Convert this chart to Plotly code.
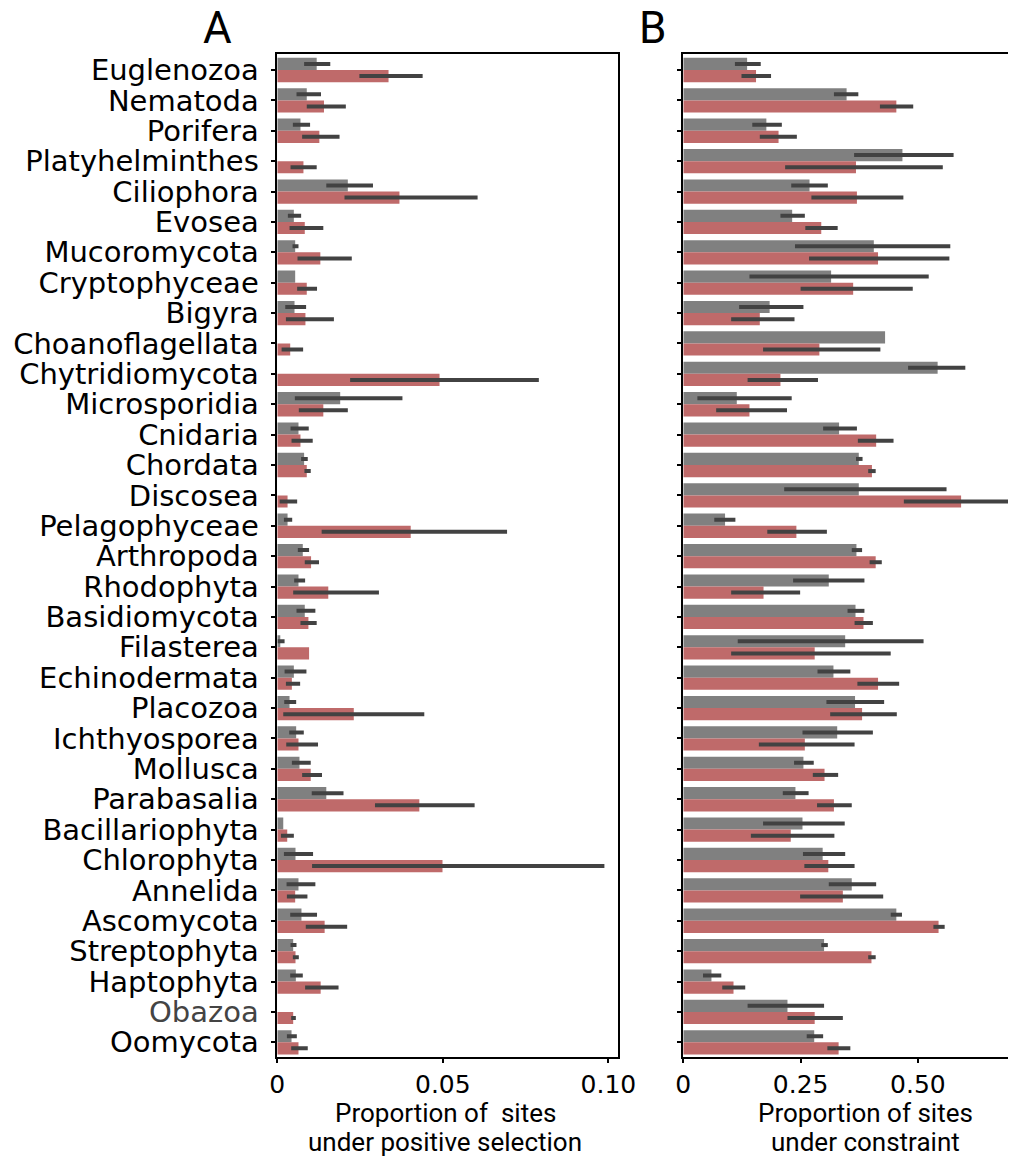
import plotly.graph_objects as go

categories = ["Euglenozoa", "Nematoda", "Porifera", "Platyhelminthes", "Ciliophora", "Evosea",
              "Mucoromycota", "Cryptophyceae", "Bigyra", "Choanoflagellata", "Chytridiomycota",
              "Microsporidia", "Cnidaria", "Chordata", "Discosea", "Pelagophyceae", "Arthropoda",
              "Rhodophyta", "Basidiomycota", "Filasterea", "Echinodermata", "Placozoa",
              "Ichthyosporea", "Mollusca", "Parabasalia", "Bacillariophyta", "Chlorophyta",
              "Annelida", "Ascomycota", "Streptophyta", "Haptophyta", "Obazoa", "Oomycota"]

# Panel A: proportion of sites under positive selection
a_grey = [0.0119, 0.0089, 0.0070, 0.0, 0.0213, 0.0050, 0.0054, 0.0054, 0.0052, 0.0, 0.0,
          0.0190, 0.0064, 0.0081, 0.0, 0.0031, 0.0077, 0.0064, 0.0083, 0.0009, 0.0050, 0.0037,
          0.0057, 0.0067, 0.0148, 0.0018, 0.0055, 0.0064, 0.0073, 0.0048, 0.0056, 0.0, 0.0043]
a_grey_lo = [0.0081, 0.0058, 0.0047, 0.0, 0.0148, 0.0032, 0.0046, 0.0054, 0.0024, 0.0, 0.0,
             0.0053, 0.0040, 0.0072, 0.0, 0.0020, 0.0062, 0.0051, 0.0058, 0.0001, 0.0022, 0.0021,
             0.0036, 0.0044, 0.0104, 0.0018, 0.0020, 0.0028, 0.0039, 0.0040, 0.0039, 0.0, 0.0029]
a_grey_hi = [0.0160, 0.0132, 0.0099, 0.0, 0.0289, 0.0072, 0.0064, 0.0054, 0.0087, 0.0, 0.0,
             0.0378, 0.0095, 0.0092, 0.0, 0.0045, 0.0096, 0.0084, 0.0115, 0.0022, 0.0088, 0.0057,
             0.0080, 0.0101, 0.0200, 0.0018, 0.0108, 0.0115, 0.0120, 0.0058, 0.0077, 0.0, 0.0059]
a_red = [0.0336, 0.0141, 0.0127, 0.0079, 0.0369, 0.0083, 0.0130, 0.0089, 0.0085, 0.0039, 0.0490,
         0.0139, 0.0070, 0.0089, 0.0031, 0.0403, 0.0102, 0.0154, 0.0094, 0.0096, 0.0044, 0.0231,
         0.0064, 0.0101, 0.0429, 0.0030, 0.0499, 0.0054, 0.0143, 0.0055, 0.0131, 0.0048, 0.0064]
a_red_lo = [0.0248, 0.0089, 0.0075, 0.0040, 0.0203, 0.0037, 0.0061, 0.0060, 0.0026, 0.0013, 0.0220,
            0.0065, 0.0043, 0.0082, 0.0007, 0.0134, 0.0083, 0.0048, 0.0070, 0.0096, 0.0026, 0.0018,
            0.0027, 0.0075, 0.0295, 0.0011, 0.0105, 0.0029, 0.0086, 0.0047, 0.0084, 0.0042, 0.0042]
a_red_hi = [0.0439, 0.0207, 0.0188, 0.0119, 0.0605, 0.0139, 0.0225, 0.0120, 0.0171, 0.0078, 0.0790,
            0.0213, 0.0107, 0.0101, 0.0060, 0.0694, 0.0126, 0.0307, 0.0119, 0.0096, 0.0069, 0.0444,
            0.0123, 0.0135, 0.0596, 0.0050, 0.0988, 0.0091, 0.0211, 0.0065, 0.0185, 0.0056, 0.0092]

# Panel B: proportion of sites under constraint
b_grey = [0.136, 0.348, 0.177, 0.467, 0.269, 0.232, 0.406, 0.315, 0.184, 0.430, 0.542,
          0.114, 0.332, 0.374, 0.374, 0.089, 0.369, 0.310, 0.367, 0.345, 0.320, 0.366,
          0.328, 0.256, 0.239, 0.254, 0.297, 0.359, 0.454, 0.300, 0.060, 0.222, 0.279]
b_grey_lo = [0.110, 0.321, 0.147, 0.364, 0.230, 0.207, 0.238, 0.141, 0.119, 0.430, 0.479,
             0.030, 0.298, 0.368, 0.215, 0.066, 0.359, 0.234, 0.350, 0.116, 0.286, 0.305,
             0.254, 0.236, 0.212, 0.170, 0.255, 0.310, 0.442, 0.294, 0.042, 0.137, 0.263]
b_grey_hi = [0.165, 0.373, 0.210, 0.576, 0.308, 0.259, 0.569, 0.523, 0.256, 0.430, 0.601,
             0.231, 0.370, 0.382, 0.561, 0.111, 0.381, 0.386, 0.386, 0.512, 0.356, 0.428,
             0.404, 0.278, 0.267, 0.344, 0.345, 0.411, 0.466, 0.308, 0.081, 0.300, 0.298]
b_red = [0.155, 0.454, 0.203, 0.368, 0.370, 0.294, 0.415, 0.362, 0.163, 0.290, 0.207,
         0.141, 0.411, 0.402, 0.592, 0.241, 0.410, 0.171, 0.384, 0.280, 0.415, 0.381,
         0.259, 0.301, 0.321, 0.229, 0.309, 0.340, 0.544, 0.401, 0.107, 0.280, 0.331]
b_red_lo = [0.124, 0.419, 0.163, 0.217, 0.273, 0.260, 0.268, 0.250, 0.102, 0.170, 0.137,
            0.070, 0.372, 0.394, 0.470, 0.179, 0.397, 0.102, 0.365, 0.102, 0.371, 0.313,
            0.161, 0.276, 0.285, 0.144, 0.258, 0.249, 0.533, 0.394, 0.083, 0.222, 0.307]
b_red_hi = [0.187, 0.490, 0.242, 0.553, 0.469, 0.329, 0.567, 0.489, 0.237, 0.420, 0.287,
            0.221, 0.448, 0.410, 0.697, 0.306, 0.423, 0.249, 0.404, 0.442, 0.460, 0.455,
            0.365, 0.330, 0.359, 0.322, 0.365, 0.426, 0.557, 0.410, 0.132, 0.340, 0.356]

a_ticks = [0, 0.05, 0.10]
a_ticktext = ["0", "0.05", "0.10"]
b_ticks = [0, 0.25, 0.50]
b_ticktext = ["0", "0.25", "0.50"]

GREY = "#808080"
RED = "#bf6a6a"
ERR = "#424242"

def bar(vals, lo, hi, color, xa, ya):
    return go.Bar(
        y=categories, x=vals, orientation="h", marker=dict(color=color, line=dict(width=0)),
        error_x=dict(type="data", symmetric=False,
                     array=[h - v for h, v in zip(hi, vals)],
                     arrayminus=[v - l for v, l in zip(vals, lo)],
                     color=ERR, thickness=4, width=0),
        xaxis=xa, yaxis=ya, showlegend=False, hoverinfo="x+y")

fig = go.Figure()
fig.add_trace(bar(a_grey, a_grey_lo, a_grey_hi, GREY, "x", "y"))
fig.add_trace(bar(a_red, a_red_lo, a_red_hi, RED, "x", "y"))
fig.add_trace(bar(b_grey, b_grey_lo, b_grey_hi, GREY, "x2", "y2"))
fig.add_trace(bar(b_red, b_red_lo, b_red_hi, RED, "x2", "y2"))

# page body has an 8px margin: work in figure pixel coordinates (screen - 8)
OFF = 8
W, H = 1008, 1150
px = lambda x: (x - OFF) / W
py = lambda y: 1 - (y - OFF) / H

ytext = ['<span style="color:#444444">%s</span>' % c if c == "Obazoa" else c for c in categories]
yr = [32.474, -0.517]
ydom = [py(1056.7), py(54.3)]

axis_common = dict(showline=True, linecolor="black", linewidth=1.5, ticks="outside",
                   ticklen=5, tickwidth=1.5, tickcolor="black", showgrid=False,
                   zeroline=False, automargin=False)

fig.update_layout(
    template="none",
    width=W, height=H, margin=dict(l=0, r=0, t=0, b=0, pad=0),
    paper_bgcolor="white", plot_bgcolor="white",
    barmode="group", bargap=0.2, bargroupgap=0,
    font=dict(family="DejaVu Sans", color="black"),
    xaxis=dict(domain=[px(277.3), px(618.3)], range=[0, 0.1030], tickvals=a_ticks,
               ticktext=a_ticktext, tickfont=dict(size=25), mirror=True, anchor="y",
               **axis_common),
    yaxis=dict(domain=ydom, range=yr, type="category", categoryorder="array",
               categoryarray=categories, tickvals=categories, ticktext=ytext,
               tickfont=dict(size=29), mirror=True, anchor="x", ticklabelstandoff=6,
               **axis_common),
    xaxis2=dict(domain=[px(683.3), 1.0], range=[0, 0.709], tickvals=b_ticks,
                ticktext=b_ticktext, tickfont=dict(size=25), mirror=True, anchor="y2",
                **axis_common),
    yaxis2=dict(domain=ydom, range=yr, type="category", categoryorder="array",
                categoryarray=categories, showticklabels=False, mirror=False, anchor="x2",
                **axis_common),
)

title_font = dict(family="Roboto", size=26, color="black")
for xc, lines in [(445, ["Proportion of  sites", "under positive selection"]),
                  (865, ["Proportion of sites", "under constraint"])]:
    for yc, t in zip([1113, 1142], lines):
        fig.add_annotation(x=px(xc), y=py(yc), xref="paper", yref="paper", text=t,
                           showarrow=False, font=title_font, xanchor="center",
                           yanchor="middle")
fig.add_annotation(x=px(217), y=py(28), xref="paper", yref="paper", text="A",
                   showarrow=False, font=dict(family="Roboto", size=44, color="black"),
                   xanchor="center", yanchor="middle")
fig.add_annotation(x=px(652), y=py(28), xref="paper", yref="paper", text="B",
                   showarrow=False, font=dict(family="Roboto", size=44, color="black"),
                   xanchor="center", yanchor="middle")

fig.write_html("out.html")
